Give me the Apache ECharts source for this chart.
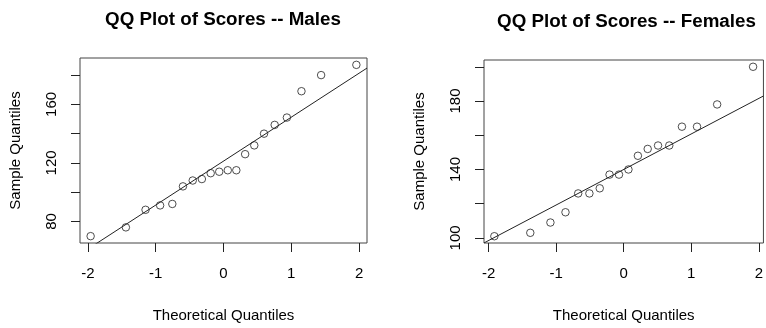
<!DOCTYPE html>
<html>
<head>
<meta charset="utf-8">
<script src="https://cdn.jsdelivr.net/npm/echarts@6/dist/echarts.min.js"></script>
<style>
html,body{margin:0;padding:0;background:#fff;}
#chart{width:766px;height:328px;}
</style>
</head>
<body>
<div id="chart"></div>
<script>
// ---- data ----
var titles = ['QQ Plot of Scores -- Males', 'QQ Plot of Scores -- Females'];
var xAxisName = 'Theoretical Quantiles';
var yAxisName = 'Sample Quantiles';
// theoretical normal quantiles (ppoints) for n = 20 and n = 18
var maleTheo = [-1.960, -1.440, -1.150, -0.935, -0.755, -0.598, -0.454, -0.319, -0.189, -0.063,
                 0.063, 0.189, 0.319, 0.454, 0.598, 0.755, 0.935, 1.150, 1.440, 1.960];
var maleScores = [70, 76, 88, 91, 92, 104, 108, 109, 113, 114,
                  115, 115, 126, 132, 140, 146, 151, 169, 180, 187];
var femaleTheo = [-1.915, -1.383, -1.085, -0.862, -0.674, -0.508, -0.355, -0.210, -0.070,
                   0.070, 0.210, 0.355, 0.508, 0.674, 0.862, 1.085, 1.383, 1.915];
var femaleScores = [101, 103, 109, 115, 126, 126, 129, 137, 137,
                    140, 148, 152, 154, 154, 165, 165, 178, 200];
var xTicks = [-2, -1, 0, 1, 2];
var maleYTicks = [80, 100, 120, 140, 160, 180];
var maleYLabels = [80, 120, 160];
var femaleYTicks = [100, 120, 140, 160, 180, 200];
var femaleYLabels = [100, 140, 180];

// ---- helpers ----
function quantile7(arr, p) {
  var s = arr.slice().sort(function(a,b){return a-b;});
  var h = (s.length - 1) * p;
  var lo = Math.floor(h);
  return s[lo] + (h - lo) * ((s[Math.min(lo+1, s.length-1)]) - s[lo]);
}
function ext(arr) {
  var mn = Math.min.apply(null, arr), mx = Math.max.apply(null, arr);
  var d = mx - mn;
  return [mn - 0.04 * d, mx + 0.04 * d];
}
var Z75 = 0.6744898;
function qqLine(scores, xr) {
  var q1 = quantile7(scores, 0.25), q3 = quantile7(scores, 0.75);
  var slope = (q3 - q1) / (2 * Z75);
  var icpt = q1 + slope * Z75;
  return [[xr[0], icpt + slope * xr[0]], [xr[1], icpt + slope * xr[1]]];
}

var FONT = '"Liberation Sans", Arial, sans-serif';
var grids = [
  {left: 80, top: 58, width: 287, height: 195},
  {left: 484, top: 60, width: 288, height: 194}
];
var titleX = [223, 626.5];
var titleTop = [10, 12];

var panels = [
  {theo: maleTheo, scores: maleScores, yTicks: maleYTicks, yLabels: maleYLabels},
  {theo: femaleTheo, scores: femaleScores, yTicks: femaleYTicks, yLabels: femaleYLabels}
];

var option = {
  backgroundColor: '#fff',
  animation: false,
  title: [], grid: [], xAxis: [], yAxis: [], series: [],
  graphic: []
};

panels.forEach(function(p, i) {
  var xr = ext(p.theo), yr = ext(p.scores);
  option.graphic.push({
    type: 'text',
    x: titleX[i], y: titleTop[i],
    style: {text: titles[i], x: 0, y: 0, align: 'center', verticalAlign: 'top',
            font: 'bold 18.8px ' + FONT, fill: '#000'}
  });
  option.grid.push({
    left: grids[i].left, top: grids[i].top, width: grids[i].width, height: grids[i].height,
    show: true, borderColor: '#444', borderWidth: 1, backgroundColor: 'transparent'
  });
  option.xAxis.push({
    type: 'value', gridIndex: i, min: xr[0], max: xr[1],
    name: xAxisName, nameLocation: 'middle', nameGap: 65,
    nameTextStyle: {fontFamily: FONT, fontSize: 15, color: '#000'},
    axisLine: {show: false, onZero: false},
    axisTick: {show: true, inside: false, length: 9, customValues: xTicks, lineStyle: {color: '#222'}},
    axisLabel: {customValues: xTicks, margin: 23, fontFamily: FONT, fontSize: 15, color: '#000',
                showMinLabel: true, showMaxLabel: true},
    splitLine: {show: false}
  });
  option.yAxis.push({
    type: 'value', gridIndex: i, min: yr[0], max: yr[1],
    name: yAxisName, nameLocation: 'middle', nameGap: 57, nameRotate: 90,
    nameTextStyle: {fontFamily: FONT, fontSize: 15, color: '#000'},
    axisLine: {show: false, onZero: false},
    axisTick: {show: true, inside: false, length: 9, customValues: p.yTicks, lineStyle: {color: '#222'}},
    axisLabel: {customValues: p.yLabels, rotate: 90, margin: 21, fontFamily: FONT, fontSize: 15, color: '#000'},
    splitLine: {show: false}
  });
  option.series.push({
    type: 'scatter', xAxisIndex: i, yAxisIndex: i,
    data: p.theo.map(function(t, k){ return [t, p.scores[k]]; }),
    symbol: 'circle', symbolSize: 7.5,
    itemStyle: {color: 'rgba(255,255,255,0)', borderColor: '#222', borderWidth: 1}
  });
  option.series.push({
    type: 'line', xAxisIndex: i, yAxisIndex: i, clip: true,
    data: qqLine(p.scores, xr), showSymbol: false, symbol: 'none',
    lineStyle: {color: '#222', width: 1}
  });
});

var chart = echarts.init(document.getElementById('chart'), null, {renderer: 'canvas'});
chart.setOption(option);
</script>
</body>
</html>
